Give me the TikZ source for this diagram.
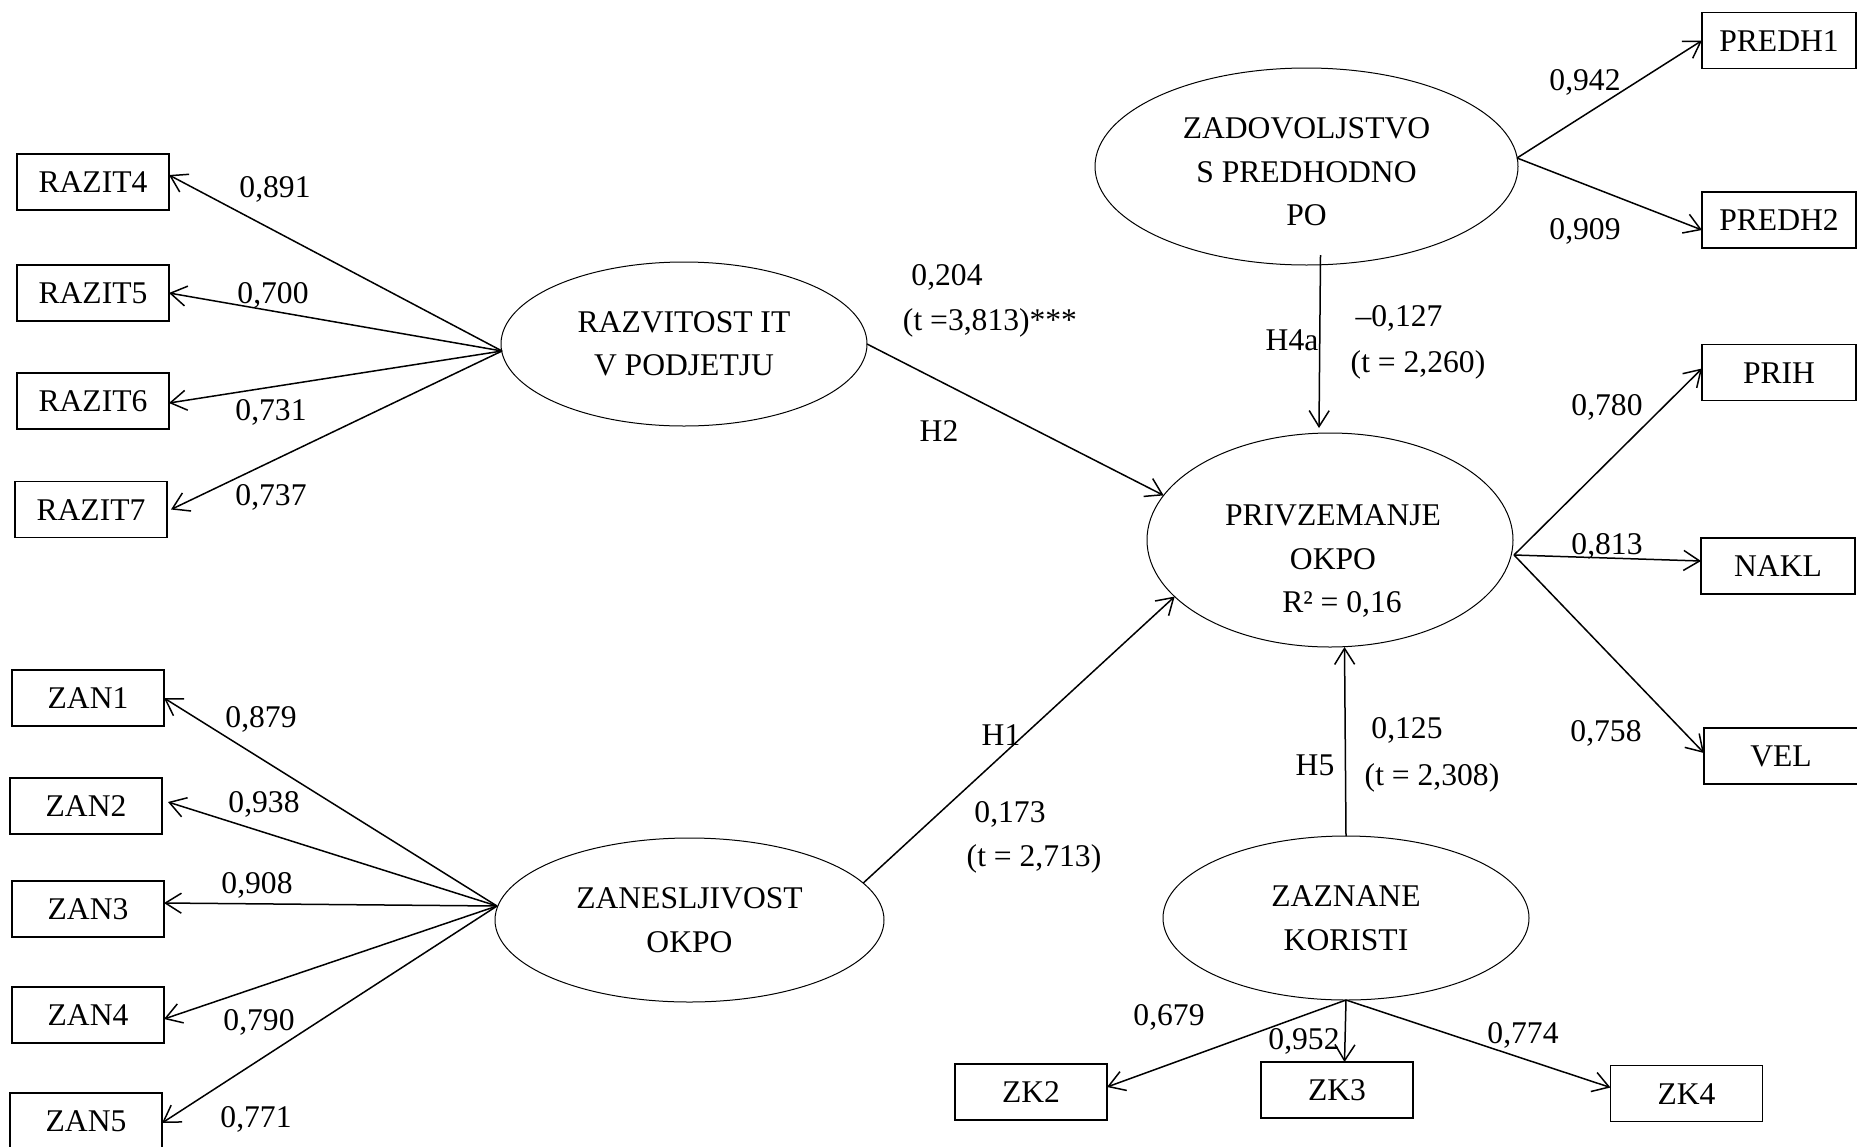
\documentclass[tikz,border=0pt]{standalone}
\usepackage{fontspec}
\setmainfont{Liberation Serif}
\usetikzlibrary{arrows.meta,shapes.geometric}
\begin{document}
\begin{tikzpicture}[x=0.5pt,y=-0.5pt,
  font=\fontsize{15.8}{21.75}\selectfont,
  ind/.style={draw,line width=0.55pt,minimum width=76pt,minimum height=28pt,inner sep=0pt,outer sep=0pt,text height=10.5pt,text depth=0pt},
  indr/.style={ind,minimum width=77pt},
  lat/.style={draw,ellipse,line width=0.5pt,inner sep=0pt,outer sep=0pt,align=center},
  lbl/.style={inner sep=0pt,text height=10.5pt,text depth=0pt},
  arr/.style={line width=0.75pt,-{Straight Barb[length=8pt,width=10pt]}}
]
\useasboundingbox (0,0) rectangle (1857,1146);
\clip (0,0) rectangle (1857,1146);

% latent variables
\node[lat,minimum width=183pt,minimum height=82pt] (razit) at (684,344) {RAZVITOST IT\\V PODJETJU};
\node[lat,minimum width=194.5pt,minimum height=82pt] (zan) at (689.5,920) {ZANESLJIVOST\\OKPO};
\node[lat,minimum width=211.5pt,minimum height=98.5pt] (zadov) at (1306.5,166.5) {};
\node[align=center,inner sep=0pt] (zadovtext) at (1306.5,172) {ZADOVOLJSTVO\\S PREDHODNO\\PO};
\node[lat,minimum width=183pt,minimum height=107pt] (priv) at (1330,540) {};
\node[align=center,inner sep=0pt] (privtext) at (1333,561) {PRIVZEMANJE\\OKPO\\\hspace*{9pt}R² = 0,16};
\node[lat,minimum width=183pt,minimum height=82pt] (zk) at (1346,918) {ZAZNANE\\KORISTI};

% indicators
\node[ind] (razit4) at (93,182) {RAZIT4};
\node[ind] (razit5) at (93,293) {RAZIT5};
\node[ind] (razit6) at (93,401) {RAZIT6};
\node[ind] (razit7) at (91,509.5) {RAZIT7};
\node[ind] (zan1) at (88,698) {ZAN1};
\node[ind] (zan2) at (86,806) {ZAN2};
\node[ind] (zan3) at (88,909) {ZAN3};
\node[ind] (zan4) at (88,1015) {ZAN4};
\node[ind] (zan5) at (86,1121) {ZAN5};
\node[indr] (predh1) at (1779,40.5) {PREDH1};
\node[indr] (predh2) at (1779,220) {PREDH2};
\node[indr] (prih) at (1779,372.5) {PRIH};
\node[indr] (nakl) at (1778,566) {NAKL};
\node[indr] (vel) at (1781,756) {VEL};
\node[ind] (zk2) at (1031,1092) {ZK2};
\node[ind] (zk3) at (1337,1090) {ZK3};
\node[ind] (zk4) at (1686.5,1093.5) {ZK4};

% fan points
\coordinate (razfan) at (502,351);
\coordinate (zanfan) at (497,906);
\coordinate (zadfan) at (1517,158);
\coordinate (privfan) at (1514,555);

% loadings
\draw[arr] (razfan) -- ([yshift=3.5pt]razit4.east);
\draw[arr] (razfan) -- (razit5.east);
\draw[arr] (razfan) -- ([yshift=-1pt]razit6.east);
\draw[arr] (razfan) -- ([xshift=2pt]razit7.east);
\draw[arr] (zanfan) -- (zan1.east);
\draw[arr] (zanfan) -- ([xshift=3pt,yshift=2pt]zan2.east);
\draw[arr] (zanfan) -- ([yshift=3pt]zan3.east);
\draw[arr] (zanfan) -- ([yshift=-2pt]zan4.east);
\draw[arr] (zanfan) -- ([yshift=-1pt]zan5.east);
\draw[arr] (zadfan) -- (predh1.west);
\draw[arr] (zadfan) -- ([yshift=-5pt]predh2.west);
\draw[arr] (privfan) -- ([yshift=2pt]prih.west);
\draw[arr] (privfan) -- ([yshift=2.5pt]nakl.west);
\draw[arr] (privfan) -- ([yshift=1.5pt]vel.west);
\draw[arr] (zk.south) -- ([yshift=2.5pt]zk2.east);
\draw[arr] (zk.south) -- ([xshift=3.75pt]zk3.north);
\draw[arr] (zk.south) -- ([yshift=3pt]zk4.west);

% structural paths
\draw[arr] (razit.east) -- (priv.165);
\draw[arr] (zan.12) -- (priv.200);
\draw[arr] ([xshift=7pt,yshift=5pt]zadov.south) -- ([xshift=-5.5pt,yshift=2.5pt]priv.north);
\draw[arr] (zk.north) -- ([xshift=7.25pt]priv.south);

% loading labels
\node[lbl] (l1) at (275,187) {0,891};
\node[lbl] (l2) at (273,293) {0,700};
\node[lbl] (l3) at (271,410) {0,731};
\node[lbl] (l4) at (271,495) {0,737};
\node[lbl] (l5) at (261,717) {0,879};
\node[lbl] (l6) at (264,802) {0,938};
\node[lbl] (l7) at (257,883) {0,908};
\node[lbl] (l8) at (259,1020) {0,790};
\node[lbl] (l9) at (256,1117) {0,771};
\node[lbl] (l10) at (1585,80) {0,942};
\node[lbl] (l11) at (1585,229) {0,909};
\node[lbl] (l12) at (1607,405) {0,780};
\node[lbl] (l13) at (1607,544) {0,813};
\node[lbl] (l14) at (1606,731) {0,758};
\node[lbl] (l15) at (1169,1015) {0,679};
\node[lbl] (l16) at (1304,1039) {0,952};
\node[lbl] (l17) at (1523,1033) {0,774};

% path labels
\node[lbl] (p1) at (947,275) {0,204};
\node[lbl] (p2) at (990,320) {(t =3,813)***};
\node[lbl] (p3) at (939,431) {H2};
\node[lbl] (p4) at (1292,340) {H4a};
\node[lbl] (p5) at (1399,316) {–0,127};
\node[lbl] (p6) at (1418,362) {(t = 2,260)};
\node[lbl] (p7) at (1001,735) {H1};
\node[lbl] (p8) at (1010,812) {0,173};
\node[lbl] (p9) at (1034,856) {(t = 2,713)};
\node[lbl] (p10) at (1315,765) {H5};
\node[lbl] (p11) at (1407,728) {0,125};
\node[lbl] (p12) at (1432,775) {(t = 2,308)};
\end{tikzpicture}
\end{document}
